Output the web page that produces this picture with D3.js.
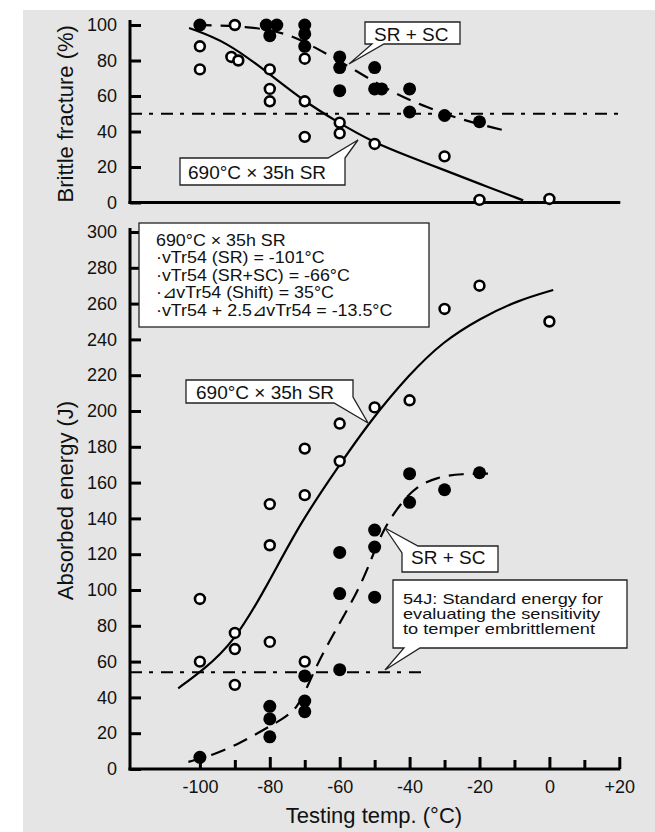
<!DOCTYPE html>
<html>
<head>
<meta charset="utf-8">
<style>
body { margin: 0; background: #fff; }
svg { display: block; }
text { font-family: "Liberation Sans", Arial, sans-serif; fill: #111; }
.curve { fill: none; stroke: #000; stroke-width: 2.2px; }
.dashed { stroke-dasharray: 15,9; }
.ref { fill: none; stroke: #000; stroke-width: 2px; stroke-dasharray: 12,7,4,8; }
.open { fill: #fff; stroke: #000; stroke-width: 2.6px; }
.filled { fill: #000; stroke: none; }
.callout { fill: #fff; stroke: #222; stroke-width: 1.3px; }
</style>
</head>
<body>
<script src="https://d3js.org/d3.v7.min.js"></script>
<script>

// ---- data ----
// top panel: brittle fracture (%) vs testing temp (°C)
const brittleSR = [[-100,88],[-100,75],[-90,100],[-91,82],[-89,80],[-80,75],[-80,64],[-80,57],
  [-70,81],[-70,57],[-70,37],[-60,45],[-60,39],[-50,33],[-30,26],[-20,1.5],[0,2]];
const brittleSC = [[-100,100],[-81,100],[-78,100],[-80,94],[-70,100],[-70,95],[-70,88],
  [-60,82],[-60,76],[-60,63],[-50,76],[-50,64],[-48,64],[-40,64],[-40,51],[-30,49],[-20,45.5]];
const brittleCurveSR = [[-103.1,98.3],[-92.3,90.5],[-80.8,73.5],[-70.5,57.5],[-60.8,45.5],[-50.5,34],
  [-40,25.8],[-30.4,18.5],[-19.8,10.4],[-7.5,1.2]];
const brittleCurveSC = [[-100.9,100],[-86.5,99.4],[-75.1,95.5],[-67.1,87.5],[-57.1,76.3],[-45,62],
  [-35,53.5],[-25,46.5],[-15,41.7],[-11.8,40]];
const brittleRef = 50;

// bottom panel: absorbed energy (J)
const energySR = [[-100,95],[-100,60],[-90,76],[-90,67],[-90,47],[-80,148],[-80,125],[-80,71],
  [-70,179],[-70,153],[-70,60],[-60,193],[-60,172],[-50,202],[-40,206],[-30,257],[-20,270],[0,250]];
const energySC = [[-100,6.5],[-80,35],[-80,28],[-80,18],[-70,52],[-70,38],[-70,32],
  [-60,121],[-60,98],[-60,55.5],[-50,133.5],[-50,124],[-50,96],[-40,165],[-40,149],[-30,156],[-20,165.5]];
const energyCurveSR = [[-106.2,45.1],[-99.1,55.3],[-90.5,70.2],[-80.9,101.8],[-71.4,137.3],[-60.4,168.9],
  [-51.8,193.1],[-39.9,221],[-30.3,239],[-19.8,251.8],[-9.3,261.6],[1.1,267.6]];
const energyCurveSC = [[-103.3,4],[-96.2,7.8],[-88.5,14.4],[-81.9,21.8],[-76.7,27.4],[-72.1,34],
  [-69.5,45],[-64.7,66],[-54.7,99],[-50.8,118],[-47.5,134],[-42.7,148],[-38,158],[-32,163],
  [-25.6,165],[-15.1,165]];
const energyRef = 54;
const energyRefEnd = -35;

const xMajor = [-100,-80,-60,-40,-20,0,20];
const xMinor = [-90,-70,-50,-30,-10,10];
const brittleTicks = [0,20,40,60,80,100];
const energyTicks = d3.range(0, 301, 20);

const infoLines = ["690°C × 35h SR", "·vTr54 (SR) = -101°C", "·vTr54 (SR+SC) = -66°C",
  "·⊿vTr54 (Shift) = 35°C", "·vTr54 + 2.5⊿vTr54 = -13.5°C"];
const noteLines = ["54J: Standard energy for", "evaluating the sensitivity", "to temper embrittlement"];

// ---- layout ----
const width = 655, height = 832;
const x = d3.scaleLinear().domain([-120, 20]).range([130, 619.3]);
const yTop = d3.scaleLinear().domain([0, 100]).range([202.5, 25]);
const yBot = d3.scaleLinear().domain([0, 300]).range([769, 232]);
const x0 = x(-120);

const svg = d3.select("body").append("svg")
    .attr("width", width)
    .attr("height", height);

svg.append("rect")
    .attr("x", 23).attr("y", 10)
    .attr("width", width - 23).attr("height", height - 10)
    .attr("fill", "#e5e5e5");

const line = d3.line().x(d => x(d[0])).curve(d3.curveBasis);

function panel(y, ticks, curveSR, curveSC, ptsSR, ptsSC, refVal, refEnd, axisTop) {
  // y axis ticks and labels
  const g = svg.append("g")
      .attr("transform", `translate(${x0},0)`)
      .call(d3.axisLeft(y).tickValues(ticks).tickSize(-11).tickPadding(13).tickFormat(d => d))
      .attr("font-size", 18)
      .attr("font-family", null);
  g.select(".domain").remove();
  g.selectAll(".tick line").attr("stroke-width", 3);
  g.selectAll(".tick text").attr("fill", "#111");

  // axis lines
  svg.append("line")
      .attr("x1", x0).attr("x2", x0)
      .attr("y1", axisTop).attr("y2", y(0) + 1.5)
      .attr("stroke", "#000").attr("stroke-width", 3);
  svg.append("line")
      .attr("x1", x0 - 1.5).attr("x2", x(20) + 1)
      .attr("y1", y(0)).attr("y2", y(0))
      .attr("stroke", "#000").attr("stroke-width", 3);

  // reference line
  svg.append("line")
      .attr("class", "ref")
      .attr("x1", x0).attr("x2", x(refEnd))
      .attr("y1", y(refVal)).attr("y2", y(refVal));

  line.y(d => y(d[1]));
  svg.append("path").attr("class", "curve").attr("d", line(curveSR));
  svg.append("path").attr("class", "curve dashed").attr("d", line(curveSC));

  svg.append("g").selectAll("circle")
    .data(ptsSR)
    .enter().append("circle")
      .attr("class", "open")
      .attr("cx", d => x(d[0]))
      .attr("cy", d => y(d[1]))
      .attr("r", 4.9);

  svg.append("g").selectAll("circle")
    .data(ptsSC)
    .enter().append("circle")
      .attr("class", "filled")
      .attr("cx", d => x(d[0]))
      .attr("cy", d => y(d[1]))
      .attr("r", 6.5);
}

panel(yTop, brittleTicks, brittleCurveSR, brittleCurveSC, brittleSR, brittleSC, brittleRef, 20, 20);
panel(yBot, energyTicks, energyCurveSR, energyCurveSC, energySR, energySC, energyRef, energyRefEnd, 228);

// x axis (bottom panel only)
const xa = svg.append("g")
    .attr("transform", `translate(0,${yBot(0)})`)
    .call(d3.axisBottom(x).tickValues(xMajor).tickSize(-12).tickPadding(11)
      .tickFormat(d => d > 0 ? "+" + d : String(d)))
    .attr("font-size", 18)
    .attr("font-family", null);
xa.select(".domain").remove();
xa.selectAll(".tick line").attr("stroke-width", 3);
xa.selectAll(".tick text").attr("fill", "#111");

const xm = svg.append("g")
    .attr("transform", `translate(0,${yBot(0)})`)
    .call(d3.axisBottom(x).tickValues(xMinor).tickSize(-9).tickFormat(""));
xm.select(".domain").remove();
xm.selectAll(".tick line").attr("stroke-width", 3);

// axis titles
svg.append("text")
    .attr("transform", `translate(73,${(yTop(0) + yTop(100)) / 2}) rotate(-90)`)
    .attr("text-anchor", "middle")
    .attr("font-size", 22)
    .text("Brittle fracture (%)");

svg.append("text")
    .attr("transform", `translate(73,${(yBot(0) + yBot(300)) / 2}) rotate(-90)`)
    .attr("text-anchor", "middle")
    .attr("font-size", 22)
    .text("Absorbed energy (J)");

svg.append("text")
    .attr("x", 374).attr("y", 823)
    .attr("text-anchor", "middle")
    .attr("font-size", 22)
    .text("Testing temp. (°C)");

// callouts
function callout(d, label, tx, ty) {
  svg.append("path").attr("class", "callout").attr("d", d);
  svg.append("text").attr("x", tx).attr("y", ty).attr("font-size", 19).text(label);
}

callout("M365,22H460V44H384L349,64L372,44H365Z", "SR + SC", 374, 40.5);
callout("M180,158H328L358,140L345,158V185H180Z", "690°C × 35h SR", 188, 178.5);
callout("M186,380H353V397L368,423L334,403H186Z", "690°C × 35h SR", 196, 399);
callout("M418,546H498V572H402V553L385,528Z", "SR + SC", 411, 564);

// info box
svg.append("rect")
    .attr("class", "callout")
    .attr("x", 139).attr("y", 223)
    .attr("width", 290).attr("height", 104);
svg.append("g").selectAll("text")
  .data(infoLines)
  .enter().append("text")
    .attr("transform", (d, i) => `translate(156,${245.5 + i * 17.6}) scale(1.05,1)`)
    .attr("font-size", 17)
    .text(d => d);

// 54J note
svg.append("path").attr("class", "callout")
    .attr("d", "M393,580H627V648H420L385,670L404,648H393Z");
svg.append("g").selectAll("text")
  .data(noteLines)
  .enter().append("text")
    .attr("transform", (d, i) => `translate(403,${603.5 + i * 15}) scale(1.3,1)`)
    .attr("font-size", 14)
    .text(d => d);

</script>
</body>
</html>
